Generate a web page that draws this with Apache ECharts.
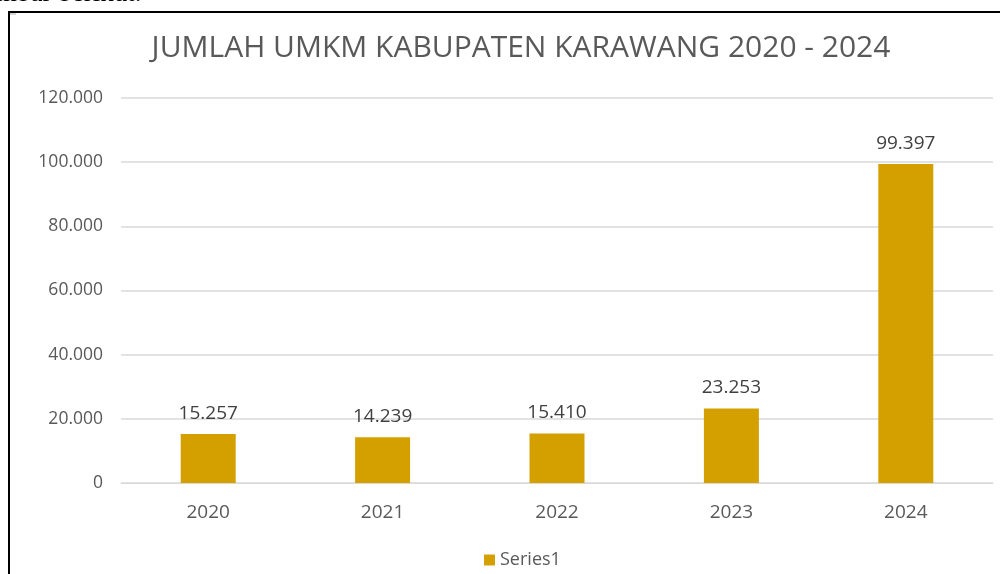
<!DOCTYPE html>
<html>
<head>
    <meta charset="utf-8">
    <script src="https://cdn.jsdelivr.net/npm/echarts@6/dist/echarts.min.js"></script>
    <style>
        html, body { margin: 0; padding: 0; background: #fff; }
        #main { width: 1000px; height: 574px; }
    </style>
</head>
<body>
    <div id="main"></div>
    <script>
        var years = ['2020', '2021', '2022', '2023', '2024'];
        var umkm = [15257, 14239, 15410, 23253, 99397];
        var seriesName = 'Series1';
        var titleText = 'JUMLAH UMKM KABUPATEN KARAWANG 2020 - 2024';

        function fmt(v) {
            return String(v).replace(/\B(?=(\d{3})+(?!\d))/g, '.');
        }

        var chart = echarts.init(document.getElementById('main'));

        var option = {
            animation: false,
            textStyle: { fontFamily: 'Open Sans', color: '#595959' },
            title: {
                text: titleText,
                left: 516,
                textAlign: 'center',
                top: 28,
                textStyle: { fontSize: 30, fontWeight: 'normal', color: '#595959', fontFamily: 'Open Sans' }
            },
            legend: {
                data: [seriesName],
                bottom: 0,
                left: 479,
                itemWidth: 11,
                itemHeight: 11,
                itemGap: 6,
                icon: 'rect',
                textStyle: { fontSize: 18, color: '#595959' }
            },
            grid: { left: 121, right: 7, top: 98, bottom: 91 },
            xAxis: {
                type: 'category',
                data: years,
                axisLine: { lineStyle: { color: '#d9d9d9' } },
                axisTick: { show: false },
                axisLabel: { fontSize: 19, color: '#595959', margin: 20 }
            },
            yAxis: {
                type: 'value',
                min: 0,
                max: 120000,
                interval: 20000,
                axisLine: { show: false },
                axisTick: { show: false },
                splitLine: { lineStyle: { color: '#d9d9d9', width: 1.5 } },
                axisLabel: { fontSize: 17.5, color: '#595959', margin: 18, formatter: fmt }
            },
            series: [{
                name: seriesName,
                type: 'bar',
                data: umkm,
                barWidth: 55,
                itemStyle: { color: '#d4a000' },
                label: {
                    show: true,
                    position: 'top',
                    distance: 11,
                    fontSize: 19,
                    color: '#404040',
                    formatter: function (p) { return fmt(p.value); }
                }
            }],
            graphic: [
                { type: 'line', shape: { x1: 9, y1: 12, x2: 9, y2: 574 }, style: { stroke: '#000', lineWidth: 2 } },
                { type: 'line', shape: { x1: 8, y1: 12, x2: 1000, y2: 12 }, style: { stroke: '#000', lineWidth: 2 } },
                { type: 'line', shape: { x1: 10, y1: 14, x2: 16, y2: 14 }, style: { stroke: '#aaa', lineWidth: 1 } },
                {
                    type: 'text', left: -4, top: -20,
                    style: { text: 'mbar berikut.', fontSize: 27, fontFamily: 'Liberation Serif', fill: '#000' }
                }
            ]
        };

        chart.setOption(option);
    </script>
</body>
</html>
